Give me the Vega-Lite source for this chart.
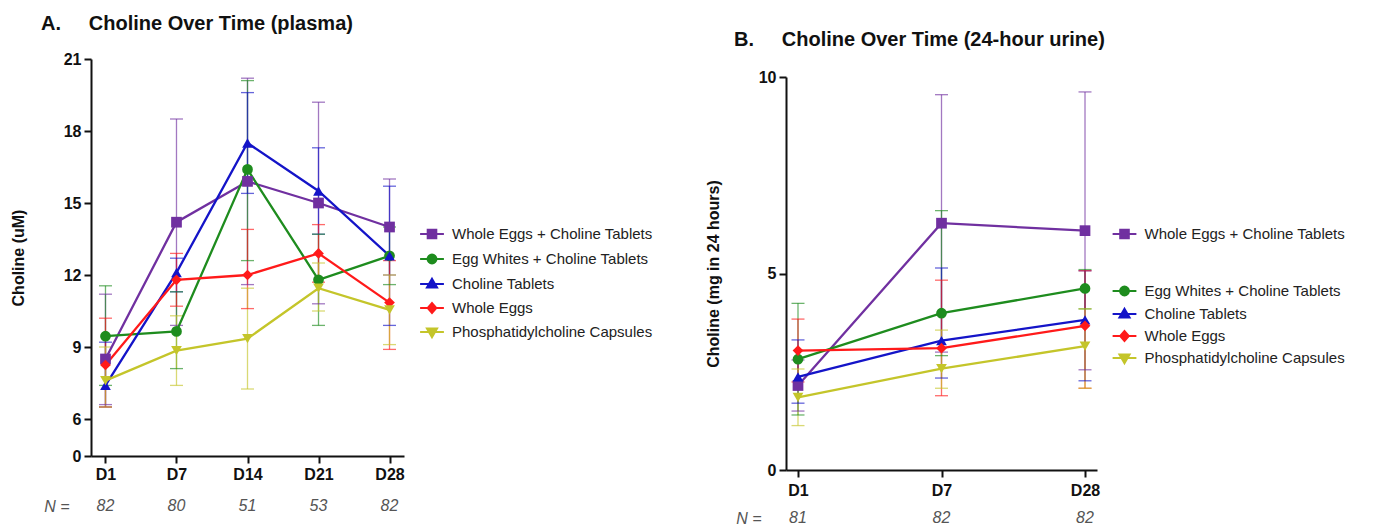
{
  "$schema": "https://vega.github.io/schema/vega-lite/v6.json",
  "background": "white",
  "padding": {"left": 10, "top": 13, "right": 5, "bottom": 5},
  "config": {
    "font": "Liberation Sans",
    "view": {"stroke": null},
    "axis": {"domainColor": "#111", "domainWidth": 2, "tickColor": "#111", "tickWidth": 2, "tickSize": 7, "labelFont": "Liberation Sans", "labelFontSize": 16, "labelFontWeight": "bold", "labelColor": "#111", "titleFont": "Liberation Sans", "titleFontSize": 16, "titleFontWeight": "bold", "titleColor": "#111", "grid": false},
    "axisX": {"labelPadding": 3, "labelAngle": 0},
    "axisY": {"labelPadding": 3, "titlePadding": 37},
    "legend": {"labelFont": "Liberation Sans", "labelFontSize": 15, "labelColor": "#222", "labelLimit": 400, "symbolSize": 196, "labelOffset": 11.5, "padding": 0, "symbolStrokeWidth": 2.2, "symbolOpacity": 1}
  },
  "datasets": {
    "plasma": [
      {"day": "D1", "t": 1, "group": "Whole Eggs + Choline Tablets", "mean": 8.5, "lo": 6.6, "hi": 11.2},
      {"day": "D7", "t": 7, "group": "Whole Eggs + Choline Tablets", "mean": 14.2, "lo": 9.9, "hi": 18.5},
      {"day": "D14", "t": 14, "group": "Whole Eggs + Choline Tablets", "mean": 15.9, "lo": 11.6, "hi": 20.2},
      {"day": "D21", "t": 21, "group": "Whole Eggs + Choline Tablets", "mean": 15.0, "lo": 10.8, "hi": 19.2},
      {"day": "D28", "t": 28, "group": "Whole Eggs + Choline Tablets", "mean": 14.0, "lo": 12.0, "hi": 16.0},
      {"day": "D1", "t": 1, "group": "Egg Whites + Choline Tablets", "mean": 9.45, "lo": 7.4, "hi": 11.55},
      {"day": "D7", "t": 7, "group": "Egg Whites + Choline Tablets", "mean": 9.65, "lo": 8.1, "hi": 11.3},
      {"day": "D14", "t": 14, "group": "Egg Whites + Choline Tablets", "mean": 16.4, "lo": 12.6, "hi": 20.1},
      {"day": "D21", "t": 21, "group": "Egg Whites + Choline Tablets", "mean": 11.8, "lo": 9.9, "hi": 13.7},
      {"day": "D28", "t": 28, "group": "Egg Whites + Choline Tablets", "mean": 12.8, "lo": 11.6, "hi": 14.0},
      {"day": "D1", "t": 1, "group": "Choline Tablets", "mean": 7.4, "lo": 6.5, "hi": 9.2},
      {"day": "D7", "t": 7, "group": "Choline Tablets", "mean": 12.1, "lo": 11.3, "hi": 12.7},
      {"day": "D14", "t": 14, "group": "Choline Tablets", "mean": 17.5, "lo": 15.4, "hi": 19.6},
      {"day": "D21", "t": 21, "group": "Choline Tablets", "mean": 15.5, "lo": 13.7, "hi": 17.3},
      {"day": "D28", "t": 28, "group": "Choline Tablets", "mean": 12.8, "lo": 9.9, "hi": 15.7},
      {"day": "D1", "t": 1, "group": "Whole Eggs", "mean": 8.25, "lo": 6.5, "hi": 10.2},
      {"day": "D7", "t": 7, "group": "Whole Eggs", "mean": 11.8, "lo": 10.7, "hi": 12.9},
      {"day": "D14", "t": 14, "group": "Whole Eggs", "mean": 12.0, "lo": 10.6, "hi": 13.9},
      {"day": "D21", "t": 21, "group": "Whole Eggs", "mean": 12.9, "lo": 11.7, "hi": 14.1},
      {"day": "D28", "t": 28, "group": "Whole Eggs", "mean": 10.85, "lo": 8.9, "hi": 12.6},
      {"day": "D1", "t": 1, "group": "Phosphatidylcholine Capsules", "mean": 7.6, "lo": 6.5, "hi": 9.0},
      {"day": "D7", "t": 7, "group": "Phosphatidylcholine Capsules", "mean": 8.85, "lo": 7.4, "hi": 10.3},
      {"day": "D14", "t": 14, "group": "Phosphatidylcholine Capsules", "mean": 9.35, "lo": 7.25, "hi": 11.45},
      {"day": "D21", "t": 21, "group": "Phosphatidylcholine Capsules", "mean": 11.45, "lo": 10.5, "hi": 12.5},
      {"day": "D28", "t": 28, "group": "Phosphatidylcholine Capsules", "mean": 10.55, "lo": 9.1, "hi": 12.0}
    ],
    "urine": [
      {"day": "D1", "t": 1, "group": "Whole Eggs + Choline Tablets", "mean": 2.15, "lo": 1.5, "hi": 2.8},
      {"day": "D7", "t": 7, "group": "Whole Eggs + Choline Tablets", "mean": 6.28, "lo": 3.0, "hi": 9.55},
      {"day": "D28", "t": 28, "group": "Whole Eggs + Choline Tablets", "mean": 6.09, "lo": 2.55, "hi": 9.62},
      {"day": "D1", "t": 1, "group": "Egg Whites + Choline Tablets", "mean": 2.82, "lo": 1.4, "hi": 4.24},
      {"day": "D7", "t": 7, "group": "Egg Whites + Choline Tablets", "mean": 3.99, "lo": 2.91, "hi": 6.6},
      {"day": "D28", "t": 28, "group": "Egg Whites + Choline Tablets", "mean": 4.62, "lo": 4.1, "hi": 5.1},
      {"day": "D1", "t": 1, "group": "Choline Tablets", "mean": 2.37, "lo": 1.7, "hi": 3.31},
      {"day": "D7", "t": 7, "group": "Choline Tablets", "mean": 3.29, "lo": 2.34, "hi": 5.14},
      {"day": "D28", "t": 28, "group": "Choline Tablets", "mean": 3.82, "lo": 2.27, "hi": 5.07},
      {"day": "D1", "t": 1, "group": "Whole Eggs", "mean": 3.04, "lo": 2.24, "hi": 3.84},
      {"day": "D7", "t": 7, "group": "Whole Eggs", "mean": 3.1, "lo": 1.89, "hi": 4.83},
      {"day": "D28", "t": 28, "group": "Whole Eggs", "mean": 3.67, "lo": 2.08, "hi": 5.07},
      {"day": "D1", "t": 1, "group": "Phosphatidylcholine Capsules", "mean": 1.85, "lo": 1.13, "hi": 2.57},
      {"day": "D7", "t": 7, "group": "Phosphatidylcholine Capsules", "mean": 2.58, "lo": 2.08, "hi": 3.56},
      {"day": "D28", "t": 28, "group": "Phosphatidylcholine Capsules", "mean": 3.15, "lo": 2.08, "hi": 4.1}
    ],
    "nA": [
      {"day": "D1", "lab": "N =", "n": "82"},
      {"day": "D7", "lab": "N =", "n": "80"},
      {"day": "D14", "lab": "N =", "n": "51"},
      {"day": "D21", "lab": "N =", "n": "53"},
      {"day": "D28", "lab": "N =", "n": "82"}
    ],
    "nB": [
      {"day": "D1", "lab": "N =", "n": "81"},
      {"day": "D7", "lab": "N =", "n": "82"},
      {"day": "D28", "lab": "N =", "n": "82"}
    ]
  },
  "spacing": 51,
  "resolve": {"scale": {"x": "independent", "y": "independent", "color": "independent", "stroke": "independent", "shape": "independent"}},
  "hconcat": [
    {
      "spacing": 16,
      "resolve": {"scale": {"x": "independent", "y": "independent"}},
      "vconcat": [
        {
          "width": 313,
          "height": 397,
          "title": {"text": "A.\u00a0\u00a0\u00a0\u00a0\u00a0Choline Over Time (plasma)", "anchor": "start", "frame": "group", "dx": -50, "offset": 17.5, "fontSize": 20, "font": "Liberation Sans", "fontWeight": "bold", "color": "#111"},
          "data": {"name": "plasma"},
          "encoding": {
            "x": {"field": "day", "type": "ordinal", "scale": {"type": "point", "domain": ["D1", "D7", "D14", "D21", "D28"], "padding": 0.204}, "axis": {"title": null}},
            "color": {
              "field": "group", "type": "nominal",
              "scale": {"domain": ["Whole Eggs + Choline Tablets", "Egg Whites + Choline Tablets", "Choline Tablets", "Whole Eggs", "Phosphatidylcholine Capsules"], "range": ["#7030A0", "#1E8C1E", "#1414C8", "#FF1A1A", "#C4C52A"]},
              "legend": {
                "title": null, "orient": "none", "legendX": 332.5, "legendY": 166.5, "rowPadding": 6,
                "symbolType": {"expr": "datum.value == 'Whole Eggs + Choline Tablets' ? 'M-1.7,0H1.7M-0.6,-0.6H0.6V0.6H-0.6Z' : datum.value == 'Egg Whites + Choline Tablets' ? 'M-1.7,0H1.7M-0.62,0A0.62,0.62,0,1,0,0.62,0A0.62,0.62,0,1,0,-0.62,0Z' : datum.value == 'Choline Tablets' ? 'M-1.7,0H1.7M0,-0.72L0.7,0.5H-0.7Z' : datum.value == 'Whole Eggs' ? 'M-1.7,0H1.7M0,-0.7L0.6,0L0,0.7L-0.6,0Z' : 'M-1.7,0H1.7M0,0.72L0.7,-0.5H-0.7Z'"},
                "symbolFillColor": {"expr": "datum.value == 'Whole Eggs + Choline Tablets' ? '#7030A0' : datum.value == 'Egg Whites + Choline Tablets' ? '#1E8C1E' : datum.value == 'Choline Tablets' ? '#1414C8' : datum.value == 'Whole Eggs' ? '#FF1A1A' : '#C4C52A'"},
                "symbolStrokeColor": {"expr": "datum.value == 'Whole Eggs + Choline Tablets' ? '#7030A0' : datum.value == 'Egg Whites + Choline Tablets' ? '#1E8C1E' : datum.value == 'Choline Tablets' ? '#1414C8' : datum.value == 'Whole Eggs' ? '#FF1A1A' : '#C4C52A'"}
              }
            }
          },
          "layer": [
            {
              "mark": {"type": "rule", "strokeWidth": 1.3, "opacity": 0.65},
              "encoding": {
                "y": {"field": "lo", "type": "quantitative", "title": "Choline (uM)", "scale": {"domain": [0, 6, 21], "range": [397, 360, 0], "nice": false, "zero": false}, "axis": {"values": [0, 6, 9, 12, 15, 18, 21]}},
                "y2": {"field": "hi"}
              }
            },
            {
              "mark": {"type": "tick", "size": 13, "thickness": 1.3, "opacity": 0.65},
              "encoding": {"y": {"field": "lo", "type": "quantitative", "title": "Choline (uM)"}}
            },
            {
              "mark": {"type": "tick", "size": 13, "thickness": 1.3, "opacity": 0.65},
              "encoding": {"y": {"field": "hi", "type": "quantitative", "title": "Choline (uM)"}}
            },
            {
              "mark": {"type": "line", "strokeWidth": 2.3},
              "encoding": {"y": {"field": "mean", "type": "quantitative", "title": "Choline (uM)"}, "order": {"field": "t", "type": "quantitative"}}
            },
            {
              "mark": {"type": "point", "filled": true, "size": 115, "opacity": 1},
              "encoding": {
                "y": {"field": "mean", "type": "quantitative", "title": "Choline (uM)"},
                "shape": {"field": "group", "type": "nominal", "scale": {"domain": ["Phosphatidylcholine Capsules", "Whole Eggs", "Choline Tablets", "Egg Whites + Choline Tablets", "Whole Eggs + Choline Tablets"], "range": ["triangle-down", "diamond", "triangle-up", "circle", "square"]}, "legend": null}
              }
            }
          ]
        },
        {
          "width": 313,
          "height": 16,
          "data": {"name": "nA"},
          "mark": {"type": "text", "fontStyle": "italic", "fontSize": 16, "color": "#555", "font": "Liberation Sans"},
          "encoding": {
            "x": {"field": "day", "type": "ordinal", "scale": {"type": "point", "domain": ["D1", "D7", "D14", "D21", "D28"], "padding": 0.204}, "axis": null},
            "y": {"field": "lab", "type": "nominal", "axis": {"title": null, "domain": false, "ticks": false, "labelFontStyle": "italic", "labelFontWeight": "normal", "labelFontSize": 16, "labelColor": "#555", "labelPadding": 22}},
            "text": {"field": "n"}
          }
        }
      ]
    },
    {
      "spacing": 12,
      "resolve": {"scale": {"x": "independent", "y": "independent"}},
      "vconcat": [
        {
          "width": 311,
          "height": 411,
          "title": {"text": "B.\u00a0\u00a0\u00a0\u00a0\u00a0Choline Over Time (24-hour urine)", "anchor": "start", "frame": "group", "dx": -52, "offset": 9.5, "fontSize": 20, "font": "Liberation Sans", "fontWeight": "bold", "color": "#111"},
          "data": {"name": "urine"},
          "encoding": {
            "x": {"field": "day", "type": "ordinal", "scale": {"type": "point", "domain": ["D1", "D7", "D28"], "padding": 0.0836}, "axis": {"title": null, "labelPadding": 5}},
            "color": {
              "field": "group", "type": "nominal",
              "scale": {"domain": ["Whole Eggs + Choline Tablets", "Egg Whites + Choline Tablets", "Choline Tablets", "Whole Eggs", "Phosphatidylcholine Capsules"], "range": ["#7030A0", "#1E8C1E", "#1414C8", "#FF1A1A", "#C4C52A"]},
              "legend": {
                "title": null, "orient": "none", "legendX": 330, "legendY": 166.5, "values": ["Whole Eggs + Choline Tablets"],
                "symbolType": "M-1.7,0H1.7M-0.6,-0.6H0.6V0.6H-0.6Z",
                "symbolFillColor": "#7030A0",
                "symbolStrokeColor": "#7030A0"
              }
            }
          },
          "layer": [
            {
              "mark": {"type": "rule", "strokeWidth": 1.3, "opacity": 0.65},
              "encoding": {
                "y": {"field": "lo", "type": "quantitative", "title": "Choline (mg in 24 hours)", "scale": {"domain": [0, 10], "range": [411, 18], "nice": false, "zero": false}, "axis": {"values": [0, 5, 10]}},
                "y2": {"field": "hi"}
              }
            },
            {
              "mark": {"type": "tick", "size": 13, "thickness": 1.3, "opacity": 0.65},
              "encoding": {"y": {"field": "lo", "type": "quantitative", "title": "Choline (mg in 24 hours)"}}
            },
            {
              "mark": {"type": "tick", "size": 13, "thickness": 1.3, "opacity": 0.65},
              "encoding": {"y": {"field": "hi", "type": "quantitative", "title": "Choline (mg in 24 hours)"}}
            },
            {
              "mark": {"type": "line", "strokeWidth": 2.3},
              "encoding": {
                "y": {"field": "mean", "type": "quantitative", "title": "Choline (mg in 24 hours)"},
                "order": {"field": "t", "type": "quantitative"},
                "stroke": {
                  "field": "group", "type": "nominal",
                  "scale": {"domain": ["Egg Whites + Choline Tablets", "Choline Tablets", "Whole Eggs", "Phosphatidylcholine Capsules", "Whole Eggs + Choline Tablets"], "range": ["#1E8C1E", "#1414C8", "#FF1A1A", "#C4C52A", "#7030A0"]},
                  "legend": {
                    "title": null, "orient": "none", "legendX": 330, "legendY": 223.5, "rowPadding": 4,
                    "values": ["Egg Whites + Choline Tablets", "Choline Tablets", "Whole Eggs", "Phosphatidylcholine Capsules"],
                    "symbolType": {"expr": "datum.value == 'Egg Whites + Choline Tablets' ? 'M-1.7,0H1.7M-0.62,0A0.62,0.62,0,1,0,0.62,0A0.62,0.62,0,1,0,-0.62,0Z' : datum.value == 'Choline Tablets' ? 'M-1.7,0H1.7M0,-0.72L0.7,0.5H-0.7Z' : datum.value == 'Whole Eggs' ? 'M-1.7,0H1.7M0,-0.7L0.6,0L0,0.7L-0.6,0Z' : 'M-1.7,0H1.7M0,0.72L0.7,-0.5H-0.7Z'"},
                    "symbolFillColor": {"expr": "datum.value == 'Egg Whites + Choline Tablets' ? '#1E8C1E' : datum.value == 'Choline Tablets' ? '#1414C8' : datum.value == 'Whole Eggs' ? '#FF1A1A' : '#C4C52A'"},
                    "symbolStrokeColor": {"expr": "datum.value == 'Egg Whites + Choline Tablets' ? '#1E8C1E' : datum.value == 'Choline Tablets' ? '#1414C8' : datum.value == 'Whole Eggs' ? '#FF1A1A' : '#C4C52A'"}
                  }
                }
              }
            },
            {
              "mark": {"type": "point", "filled": true, "size": 115, "opacity": 1},
              "encoding": {
                "y": {"field": "mean", "type": "quantitative", "title": "Choline (mg in 24 hours)"},
                "shape": {"field": "group", "type": "nominal", "scale": {"domain": ["Phosphatidylcholine Capsules", "Whole Eggs", "Choline Tablets", "Egg Whites + Choline Tablets", "Whole Eggs + Choline Tablets"], "range": ["triangle-down", "diamond", "triangle-up", "circle", "square"]}, "legend": null}
              }
            }
          ]
        },
        {
          "width": 311,
          "height": 16,
          "data": {"name": "nB"},
          "mark": {"type": "text", "fontStyle": "italic", "fontSize": 16, "color": "#555", "font": "Liberation Sans"},
          "encoding": {
            "x": {"field": "day", "type": "ordinal", "scale": {"type": "point", "domain": ["D1", "D7", "D28"], "padding": 0.0836}, "axis": null},
            "y": {"field": "lab", "type": "nominal", "axis": {"title": null, "domain": false, "ticks": false, "labelFontStyle": "italic", "labelFontWeight": "normal", "labelFontSize": 16, "labelColor": "#555", "labelPadding": 25}},
            "text": {"field": "n"}
          }
        }
      ]
    }
  ]
}
